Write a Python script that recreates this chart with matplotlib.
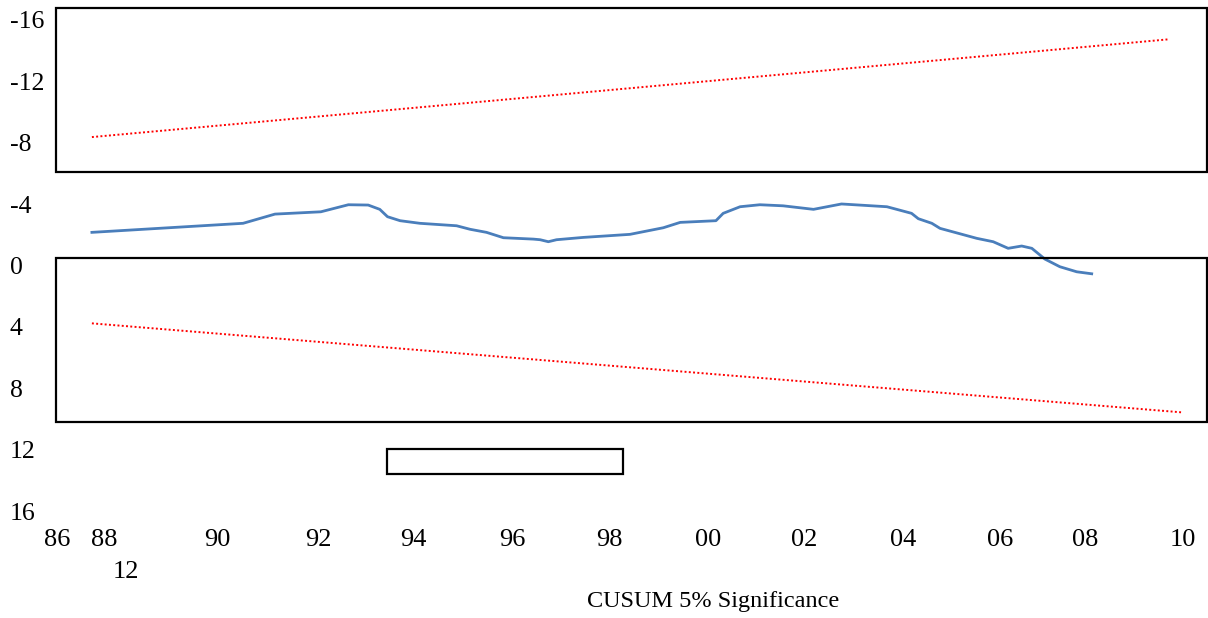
import matplotlib
matplotlib.use("Agg")
import matplotlib.pyplot as plt
from matplotlib.patches import Rectangle

plt.rcParams["font.family"] = ["Liberation Serif", "DejaVu Serif"]

W, H = 1208, 618

# CUSUM path (year, value)
cusumYears = [87.41, 90.54, 91.20, 92.15, 92.72, 93.13, 93.37, 93.53, 93.79, 94.20,
              94.96, 95.24, 95.58, 95.93, 96.55, 96.69, 96.86, 97.03, 97.58, 98.55,
              99.24, 99.59, 100.33, 100.48, 100.83, 101.24, 101.72, 102.35, 102.93, 103.87,
              104.38, 104.52, 104.80, 104.97, 105.73, 106.07, 106.38, 106.66, 106.87, 107.14,
              107.45, 107.80, 108.11]
cusumValues = [-2.16, -2.75, -3.35, -3.50, -3.96, -3.94, -3.66, -3.18, -2.92, -2.75,
               -2.59, -2.36, -2.16, -1.81, -1.72, -1.68, -1.55, -1.68, -1.83, -2.03,
               -2.46, -2.81, -2.92, -3.40, -3.83, -3.96, -3.89, -3.66, -4.01, -3.83,
               -3.40, -3.05, -2.75, -2.42, -1.77, -1.55, -1.12, -1.27, -1.12, -0.42,
               0.08, 0.41, 0.54]

# 5% significance bounds
upperYears = [87.41, 109.70]
upperValues = [-8.37, -14.74]
lowerYears = [87.41, 109.97]
lowerValues = [3.77, 9.57]

# axis labels
yTicks = [-16, -12, -8, -4, 0, 4, 8, 12, 16]
xTickPos = [86.69, 87.66, 90.0, 92.09, 94.06, 96.11, 98.12, 100.17, 102.15, 104.20, 106.21, 107.97, 110.0]
xTickLabels = ["86", "88", "90", "92", "94", "96", "98", "00", "02", "04", "06", "08", "10"]


def px_rect(x0, y0, x1, y1):
    return Rectangle((x0 / W, 1 - y1 / H), (x1 - x0) / W, (y1 - y0) / H,
                     transform=fig.transFigure, fill=False, edgecolor="black", linewidth=1.6)


fig = plt.figure(figsize=(W / 100, H / 100), dpi=100)
left, right, top, bottom = 56, 1207, 20, 511
ax = fig.add_axes([left / W, 1 - bottom / H, (right - left) / W, (bottom - top) / H])
ax.set_xlim(90 + (left - 217) / 48.3, 90 + (right - 217) / 48.3)
ax.set_ylim(16, -16)
for s in ax.spines.values():
    s.set_visible(False)

ax.plot(upperYears, upperValues, color="red", linestyle=(0, (1, 1.2)), linewidth=1.4)
ax.plot(lowerYears, lowerValues, color="red", linestyle=(0, (1, 1.2)), linewidth=1.4)
ax.plot(cusumYears, cusumValues, color="#4a7ebb", linewidth=2.0)

ax.set_yticks(yTicks)
ax.set_yticklabels([str(v) for v in yTicks], fontsize=18.5)
ax.tick_params(axis="y", length=0, pad=(left - 10) * 0.72)
for lab in ax.get_yticklabels():
    lab.set_horizontalalignment("left")

ax.set_xticks(xTickPos)
ax.set_xticklabels(xTickLabels, fontsize=19)
ax.tick_params(axis="x", length=0, pad=13)

# plot area frames and empty legend box
fig.add_artist(px_rect(56, 8, 1207, 172))
fig.add_artist(px_rect(56, 258, 1207, 422))
fig.add_artist(px_rect(387, 449, 623, 474))

fig.text(126 / W, 1 - 572 / H, "12", fontsize=19, ha="center", va="center")
fig.text(713 / W, 1 - 602 / H, "CUSUM 5% Significance", fontsize=17.5, ha="center", va="center")

fig.savefig("out.png", dpi=100)
